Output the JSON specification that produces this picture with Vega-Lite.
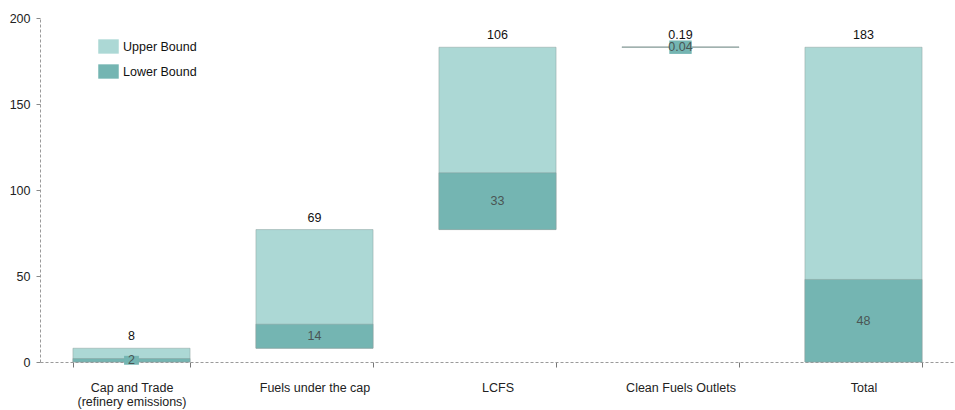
{
  "$schema": "https://vega.github.io/schema/vega-lite/v6.json",
  "width": 915,
  "height": 344,
  "autosize": "none",
  "padding": {"left": 40, "top": 18, "right": 0, "bottom": 48},
  "background": "white",
  "config": {
    "view": {"stroke": null},
    "font": "Liberation Sans",
    "axis": {"labelFont": "Liberation Sans", "labelColor": "#222", "labelFontSize": 12.5}
  },
  "data": {
    "values": [
      {"category": "Cap and Trade (refinery emissions)", "bound": "Upper Bound", "start": 0, "end": 8, "value": "8"},
      {"category": "Fuels under the cap", "bound": "Upper Bound", "start": 8, "end": 77, "value": "69"},
      {"category": "LCFS", "bound": "Upper Bound", "start": 77, "end": 183, "value": "106"},
      {"category": "Clean Fuels Outlets", "bound": "Upper Bound", "start": 183, "end": 183.19, "value": "0.19"},
      {"category": "Total", "bound": "Upper Bound", "start": 0, "end": 183, "value": "183"},
      {"category": "Cap and Trade (refinery emissions)", "bound": "Lower Bound", "start": 0, "end": 2, "value": "2"},
      {"category": "Fuels under the cap", "bound": "Lower Bound", "start": 8, "end": 22, "value": "14"},
      {"category": "LCFS", "bound": "Lower Bound", "start": 77, "end": 110, "value": "33"},
      {"category": "Clean Fuels Outlets", "bound": "Lower Bound", "start": 183, "end": 183.04, "value": "0.04"},
      {"category": "Total", "bound": "Lower Bound", "start": 0, "end": 48, "value": "48"}
    ]
  },
  "encoding": {
    "x": {
      "field": "category",
      "type": "nominal",
      "sort": null,
      "scale": {"paddingInner": 0.36, "paddingOuter": 0.18},
      "axis": {
        "title": null,
        "labelAngle": 0,
        "labelPadding": 14,
        "labelLineHeight": 14,
        "domainColor": "#9a9a9a",
        "domainDash": [3, 2],
        "tickColor": "#777",
        "tickSize": 5,
        "tickBand": "extent",
        "labelExpr": "datum.label == 'Cap and Trade (refinery emissions)' ? ['Cap and Trade', '(refinery emissions)'] : datum.label"
      }
    }
  },
  "layer": [
    {
      "mark": {"type": "bar", "stroke": "#8c9e9d", "strokeWidth": 0.8, "strokeOpacity": 0.6},
      "encoding": {
        "y": {
          "field": "start",
          "type": "quantitative",
          "scale": {"domain": [0, 200], "nice": false},
          "axis": {
            "title": null,
            "values": [0, 50, 100, 150, 200],
            "grid": false,
            "domainColor": "#9a9a9a",
            "domainDash": [3, 2],
            "tickColor": "#888",
            "tickSize": 4,
            "labelPadding": 6
          }
        },
        "y2": {"field": "end"},
        "color": {
          "field": "bound",
          "type": "nominal",
          "scale": {"domain": ["Upper Bound", "Lower Bound"], "range": ["#acd8d5", "#74b5b2"]},
          "legend": {
            "title": null,
            "orient": "none",
            "legendX": 58,
            "legendY": 18,
            "symbolType": "M-1,-0.7H1V0.7H-1Z",
            "symbolSize": 420,
            "symbolStrokeWidth": 0,
            "labelFontSize": 12.5,
            "labelColor": "#111",
            "rowPadding": 7
          }
        }
      }
    },
    {
      "transform": [
        {"filter": "datum.bound == 'Lower Bound' && datum.end - datum.start < 5"},
        {"calculate": "(datum.start + datum.end) / 2", "as": "mid"}
      ],
      "mark": {"type": "point", "shape": "M-1,-0.6H1V0.6H-1Z", "filled": true, "color": "#74b5b2", "opacity": 1},
      "encoding": {
        "y": {"field": "mid", "type": "quantitative"},
        "size": {
          "condition": {"test": "datum.category == 'Clean Fuels Outlets'", "value": 500},
          "value": 220
        }
      }
    },
    {
      "transform": [{"filter": "datum.bound == 'Upper Bound'"}],
      "mark": {"type": "text", "baseline": "bottom", "dy": -5, "fontSize": 12.5, "color": "#111"},
      "encoding": {
        "y": {"field": "end", "type": "quantitative"},
        "text": {"field": "value"}
      }
    },
    {
      "transform": [
        {"filter": "datum.bound == 'Lower Bound'"},
        {"calculate": "(datum.start + datum.end) / 2", "as": "mid"}
      ],
      "mark": {"type": "text", "baseline": "middle", "fontSize": 12.5, "color": "#4a5554"},
      "encoding": {
        "y": {"field": "mid", "type": "quantitative"},
        "text": {"field": "value"}
      }
    }
  ]
}
